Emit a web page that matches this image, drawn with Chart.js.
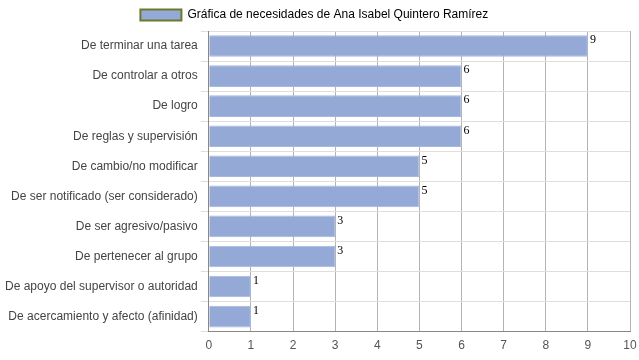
<!DOCTYPE html>
<html>
<head>
<meta charset="utf-8">
<script src="https://cdn.jsdelivr.net/npm/chart.js@4"></script>
<style>
    html, body { margin: 0; padding: 0; background: #fff; }
    #wrap { width: 639px; height: 360px; }
</style>
</head>
<body>
<div id="wrap"><canvas id="chart"></canvas></div>
<script>
const categories = [
    "De terminar una tarea",
    "De controlar a otros",
    "De logro",
    "De reglas y supervisión",
    "De cambio/no modificar",
    "De ser notificado (ser considerado)",
    "De ser agresivo/pasivo",
    "De pertenecer al grupo",
    "De apoyo del supervisor o autoridad",
    "De acercamiento y afecto (afinidad)"
];
const values = [9, 6, 6, 6, 5, 5, 3, 3, 1, 1];
const seriesName = "Gráfica de necesidades de Ana Isabel Quintero Ramírez";
const xTicks = [0, 1, 2, 3, 4, 5, 6, 7, 8, 9, 10];

// draw the value next to each bar end
const valueLabels = {
    id: "valueLabels",
    afterDatasetsDraw(chart) {
        const ctx = chart.ctx;
        const meta = chart.getDatasetMeta(0);
        ctx.save();
        ctx.font = '12px "Liberation Serif", "Times New Roman", serif';
        ctx.fillStyle = "#000";
        ctx.textAlign = "left";
        ctx.textBaseline = "top";
        meta.data.forEach((bar, i) => {
            ctx.fillText(String(values[i]), bar.x + 2, bar.y - bar.height / 2 - 1);
        });
        ctx.restore();
    }
};

const ctx = document.getElementById("chart").getContext("2d");
new Chart(ctx, {
    type: "bar",
    data: {
        labels: categories,
        datasets: [{
            label: seriesName,
            data: values,
            backgroundColor: "#94a9d6",
            borderColor: "#a7b7de",
            borderWidth: 1,
            barPercentage: 0.9,
            categoryPercentage: 0.8
        }]
    },
    options: {
        indexAxis: "y",
        responsive: true,
        maintainAspectRatio: false,
        animation: false,
        layout: { padding: { left: 2, right: 9, bottom: 0, top: 0 } },
        plugins: {
            tooltip: { enabled: false },
            legend: {
                position: "top",
                labels: {
                    font: { family: '"Liberation Sans", Arial, sans-serif', size: 12 },
                    color: "#444",
                    boxWidth: 41,
                    boxHeight: 11,
                    padding: 9,
                    generateLabels() {
                        return [{
                            text: seriesName + " ",
                            fillStyle: "#94a9d6",
                            strokeStyle: "#6b7a2a",
                            lineWidth: 2,
                            datasetIndex: 0
                        }];
                    }
                }
            }
        },
        scales: {
            x: {
                min: 0,
                max: 10,
                afterBuildTicks(axis) {
                    axis.ticks = xTicks.map(v => ({ value: v }));
                },
                // let the "10" label hang into the right margin
                afterFit(axis) {
                    axis.paddingRight = 0;
                },
                grid: { color: "#b4b4b4", drawTicks: false },
                border: { color: "#888" },
                ticks: {
                    padding: 7,
                    color: "#555",
                    font: { family: '"Liberation Sans", Arial, sans-serif', size: 12 }
                }
            },
            y: {
                grid: { color: "#dedede", tickLength: 8, offset: true },
                border: { color: "#888" },
                ticks: {
                    padding: 3,
                    color: "#444",
                    font: { family: '"Liberation Sans", Arial, sans-serif', size: 12 }
                }
            }
        }
    },
    plugins: [valueLabels]
});
</script>
</body>
</html>
